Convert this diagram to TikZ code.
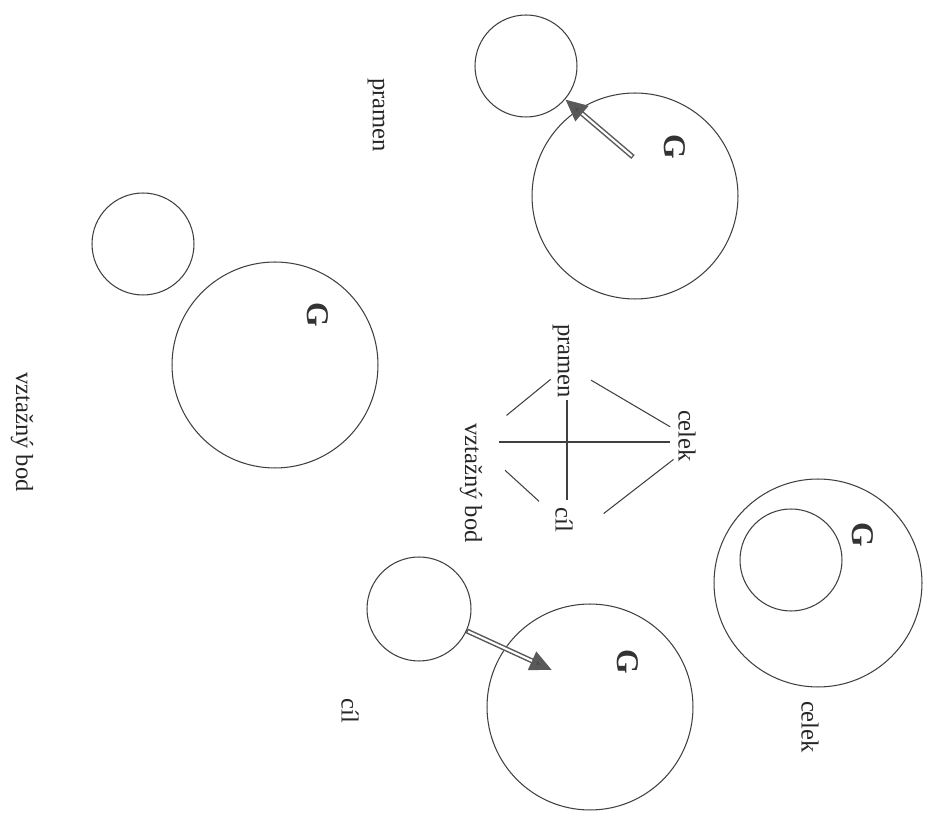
\documentclass[tikz,border=0pt]{standalone}
\usepackage{fontspec}
\setmainfont{Liberation Serif}
\usetikzlibrary{arrows.meta}

\tikzset{
  ring/.style={draw=black!75, line width=0.6pt, circle, inner sep=0pt, minimum size=#1},
  lbl/.style={rotate=-90, inner sep=1pt, font=\fontsize{14}{16}\selectfont, text=black!85},
  gee/.style={rotate=-90, inner sep=0pt, font=\fontsize{18}{20}\selectfont\bfseries, text=black!80},
  link/.style={draw=black!75, line width=0.6pt},
  shaft/.style={line width=2.9pt, draw=black!65, -{Triangle[length=0.44cm, width=0.38cm, fill=black!70]}},
  shaftcore/.style={line width=1.2pt, draw=white, shorten >=0.44cm, shorten <=0.8pt},
}

\begin{document}
\begin{tikzpicture}[x=0.02cm, y=-0.02cm]

    \useasboundingbox (0,0) rectangle (927,813);

    % ==========================================
    % PRAMEN: small circle leaves G
    % ==========================================
    \node[ring=2.04cm] (small1) at (526,66) {};
    \node[ring=4.12cm] (big1) at (635,196) {};
    \node[gee] (g1) at (675,147) {G};
    \coordinate (tail1) at (633,157);
    \draw[shaft] (tail1) -- (small1);
    \draw[shaftcore] (tail1) -- (small1);
    \node[lbl] (pramen1) at (376,115) {pramen};

    % ==========================================
    % VZTAZNY BOD: small circle beside G
    % ==========================================
    \node[ring=2.04cm] (small2) at (143,244) {};
    \node[ring=4.12cm] (big2) at (275,365) {};
    \node[gee] (g2) at (318,315) {G};
    \node[lbl] (vb1) at (22,432) {vztažný bod};

    % ==========================================
    % CIL: small circle enters G
    % ==========================================
    \node[ring=2.08cm] (small3) at (419,609) {};
    \node[ring=4.12cm] (big3) at (590,707) {};
    \node[gee] (g3) at (628,662) {G};
    \coordinate (head3) at (552,670);
    \draw[shaft] (small3) -- (head3);
    \draw[shaftcore] (small3) -- (head3);
    \node[lbl] (cil1) at (350,711) {cíl};

    % ==========================================
    % CELEK: small circle inside G
    % ==========================================
    \node[ring=4.16cm] (outer4) at (818,583) {};
    \node[ring=2.04cm] (inner4) at (791,560) {};
    \node[gee] (g4) at (863,535) {G};
    \node[lbl] (celek1) at (810,727) {celek};

    % ==========================================
    % CENTRE: the four relations
    % ==========================================
    \coordinate (P) at (567,366);
    \coordinate (C) at (696,442);
    \coordinate (L) at (576,535);
    \coordinate (V) at (474,442);

    \node[lbl] (pramen2) at (561,361) {pramen};
    \node[lbl] (celek2) at (687,436) {celek};
    \node[lbl] (cil2) at (564,520) {cíl};
    \node[lbl] (vb2) at (471,483) {vztažný bod};

    % Cross
    \draw[link, shorten <=0.68cm, shorten >=0.7cm] (P) -- (P |- L);
    \draw[link, shorten <=0.5cm, shorten >=0.52cm] (V) -- (C);

    % Diamond edges
    \draw[link, shorten <=0.56cm, shorten >=0.6cm] (P) -- (C);
    \draw[link, shorten <=0.42cm, shorten >=0.84cm] (P) -- (V);
    \draw[link, shorten <=0.84cm, shorten >=1.0cm] (V) -- (L);
    \draw[link, shorten <=0.7cm, shorten >=0.57cm] (L) -- (C);

\end{tikzpicture}
\end{document}
